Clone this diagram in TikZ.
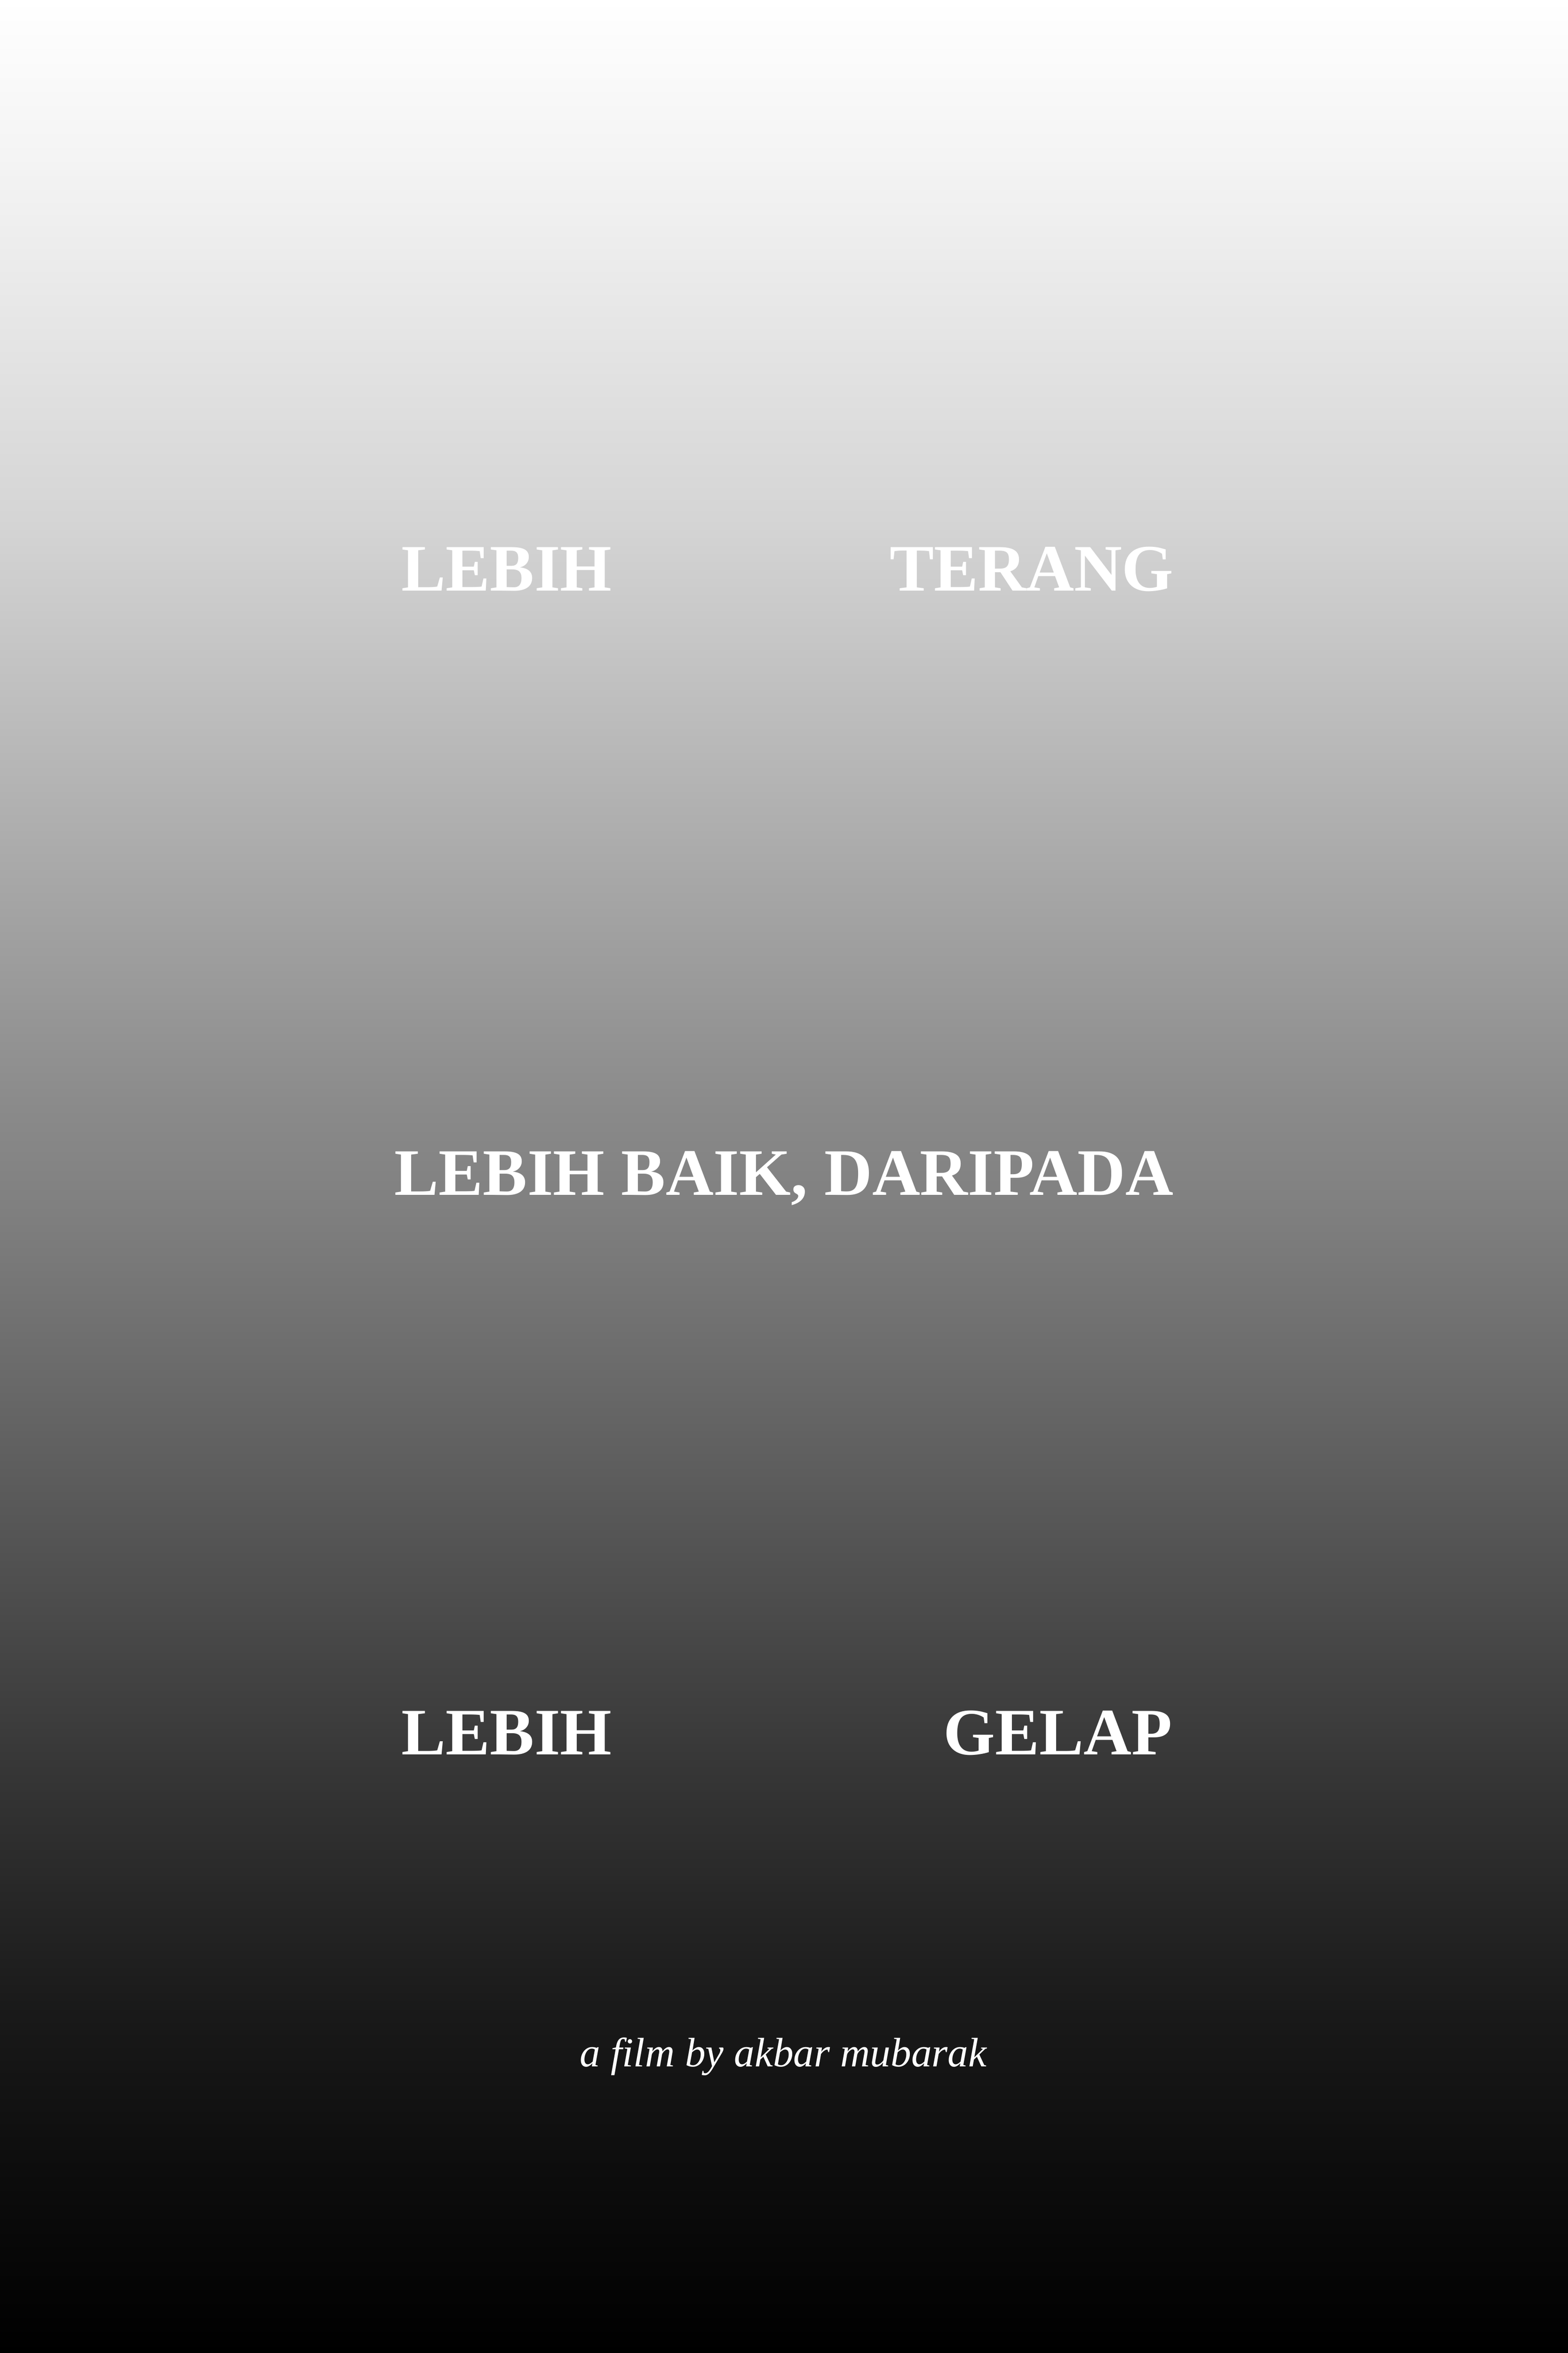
\documentclass[tikz,border=0pt]{standalone}
\usepackage{fontspec}
\setmainfont{Liberation Serif}

\pgfdeclareverticalshading{latar}{100bp}{%
	color(0bp)=(black); color(25bp)=(black);
	color(29.2bp)=(black!94.5); color(32.3bp)=(black!90);
	color(37.3bp)=(black!79); color(49.3bp)=(black!50);
	color(51.4bp)=(black!46); color(62bp)=(black!21);
	color(64bp)=(black!16.5); color(70.8bp)=(black!5.5);
	color(75bp)=(white); color(100bp)=(white)}

\begin{document}
\begin{tikzpicture}[x=1pt,y=1pt,
	judul/.style={text=white,inner sep=0pt,font=\fontsize{20}{24}\selectfont\bfseries},
	kredit/.style={text=white,inner sep=0pt,font=\fontsize{12.4}{15}\selectfont\itshape}]

	\useasboundingbox (0,0) rectangle (472.4,708.7);

	\shade[shading=latar] (0,0) rectangle (472.4,708.7);


	\node 	(t1)		at	(120.8,530.8) 	[judul,anchor=base west]{LEBIH};

	\node 	(t2)		at	(353.8,530.8) 	[judul,anchor=base east]{TERANG};


	\node 	(m1)		at	(236.2,348.8) 	[judul,anchor=base]{LEBIH BAIK, DARIPADA};


	\node 	(g1)		at	(120.8,180.2) 	[judul,anchor=base west]{LEBIH};

	\node 	(g2)		at	(353.4,180.2) 	[judul,anchor=base east]{GELAP};


	\node 	(k1)		at	(236.0,86.3) 	[kredit,anchor=base]{a film by akbar mubarak};

\end{tikzpicture}
\end{document}
